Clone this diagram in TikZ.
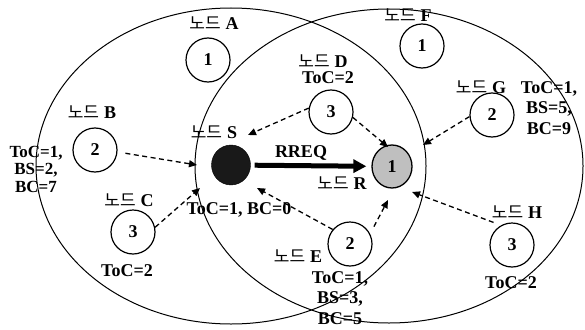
\documentclass[tikz,border=0pt]{standalone}
\usepackage{fontspec}
\setmainfont{Liberation Serif}
\newfontfamily\krfont{Noto Sans CJK KR}
\usetikzlibrary{arrows.meta,shapes.geometric}
\newcommand\nodo[1]{{\krfont\mdseries\fontsize{17}{17}\selectfont 노드}\hspace{5pt}#1}
\newcommand\wideset{\fontsize{18}{20.5}\selectfont\bfseries}
\newcommand\tightset{\fontsize{17}{17.5}\selectfont\bfseries}
\lineskiplimit=-30pt
\tikzset{
  lbl/.style={inner sep=0pt, font={\fontsize{18}{20}\selectfont\bfseries}},
  lbl3/.style={inner sep=0pt, align=center, font={\wideset}},
  nd/.style={circle, draw, line width=1.2pt, minimum size=44pt, inner sep=0pt, font={\fontsize{18}{18}\selectfont\bfseries}},
  zone/.style={draw, line width=1pt},
  msg/.style={draw, line width=1.3pt, dash pattern=on 5pt off 3.5pt, -{Triangle[length=8pt,width=7pt]}},
  rreq/.style={draw, line width=5pt, -{Triangle[length=13pt,width=13pt]}}
}
\begin{document}
\begin{tikzpicture}[x=1pt,y=-1pt]
\useasboundingbox (0,0) rectangle (585,329);
% zones
\draw[zone] (231,166) ellipse [x radius=195pt, y radius=158pt];
\draw[zone] (389,166) ellipse [x radius=194pt, y radius=157pt];
% nodes
\node[nd] (nA) at (208,60) {1};
\node[nd] (nB) at (95,150) {2};
\node[nd] (nC) at (133,232) {3};
\node[nd] (nD) at (331,112) {3};
\node[nd] (nE) at (350,244) {2};
\node[nd] (nF) at (422,46) {1};
\node[nd] (nG) at (492,115) {2};
\node[nd] (nH) at (512,245) {3};
\node[ellipse, draw, fill=black!90, minimum width=39pt, minimum height=40pt, inner sep=0pt] (S) at (231,165) {};
\node[ellipse, draw, line width=1.3pt, fill=black!25, minimum width=40pt, minimum height=43pt, inner sep=0pt, font={\fontsize{18}{18}\selectfont\bfseries}] (R) at (392,166.5) {1};
% labels
\node[lbl] (lA) at (214,23) {\nodo{A}};
\node[lbl] (lB) at (92,112) {\nodo{B}};
\node[lbl] (lS) at (214,132) {\nodo{S}};
\node[lbl] (lD) at (323,61) {\nodo{D}};
\node[lbl] (lDt) at (328,78) {ToC=2};
\node[lbl] (lF) at (408,15) {\nodo{F}};
\node[lbl] (lG) at (481,87) {\nodo{G}};
\node[lbl3] (lGt) at (549,108) {ToC=1,\\BS=5,\\BC=9};
\node[lbl3, font={\tightset}] (lBt) at (36,169) {ToC=1,\\BS=2,\\BC=7};
\node[lbl] (lC) at (129,200) {\nodo{C}};
\node[lbl] (lCt) at (127,271) {ToC=2};
\node[lbl] (lSt) at (239,210) {ToC=1, BC=0};
\node[lbl] (lR) at (342,183) {\nodo{R}};
\node[lbl] (lE) at (298,256) {\nodo{E}};
\node[lbl3] (lEt) at (340,298) {ToC=1,\\BS=3,\\BC=5};
\node[lbl] (lH) at (517,212) {\nodo{H}};
\node[lbl] (lHt) at (511,283) {ToC=2};
\node[lbl] (rq) at (301,153) {RREQ};
% arrow tips
\coordinate (tBS) at (197,165);
\coordinate (tCS) at (200,188);
\coordinate (tDS) at (248,135);
\coordinate (tDR) at (388,147);
\coordinate (tGR) at (423,145);
\coordinate (tES) at (257,188);
\coordinate (tER) at (388,200);
\coordinate (tHR) at (412,192);
% connectors
\draw[msg, shorten <=8pt] (nB.-5) -- (tBS);
\draw[msg] (nC.12) -- (tCS);
\draw[msg] (nD.170) -- (tDS);
\draw[msg] (nD.-14) -- (tDR);
\draw[msg] (nG.184) -- (tGR);
\draw[msg] (nE.140) -- (tES);
\draw[msg, shorten <=8pt] (nE.27) -- (tER);
\draw[msg, shorten <=8pt] (nH.119) -- (tHR);
\draw[rreq, shorten <=4pt, shorten >=5pt] (S) -- (R);
\end{tikzpicture}
\end{document}
